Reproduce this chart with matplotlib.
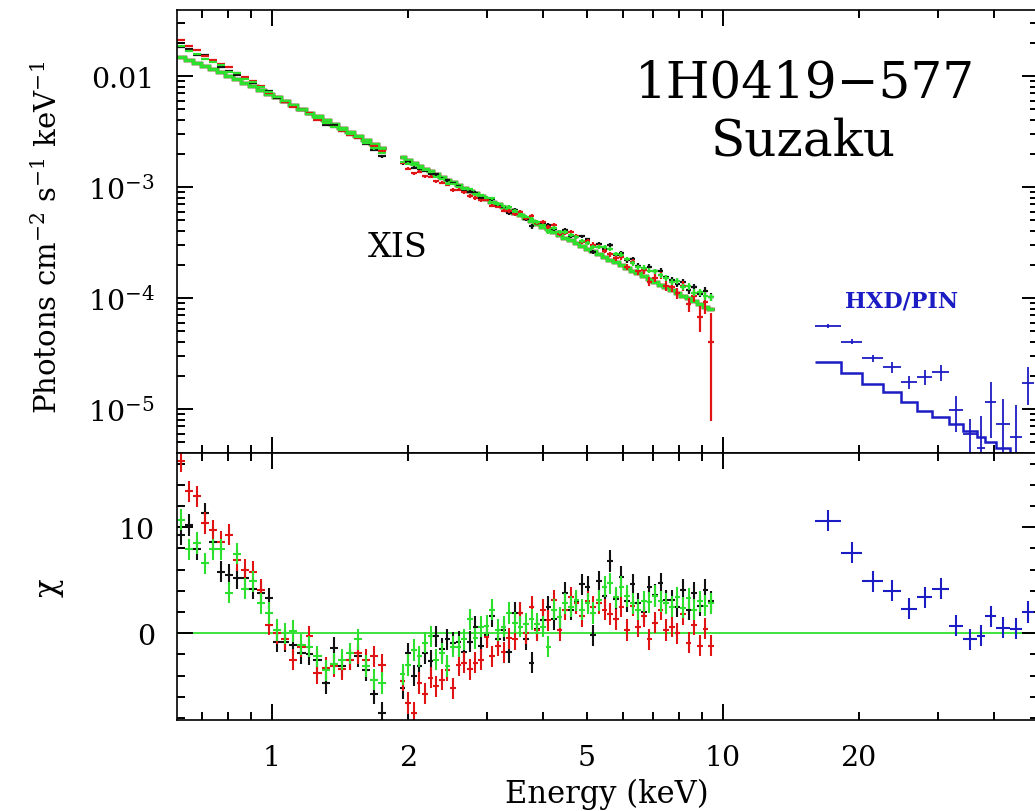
import numpy as np
import matplotlib
matplotlib.use("Agg")
import matplotlib.pyplot as plt
from matplotlib.ticker import FixedLocator, FuncFormatter, LogLocator, MultipleLocator, NullFormatter

plt.rcParams['font.family'] = ['DejaVu Serif']
plt.rcParams['mathtext.fontset'] = 'dejavuserif'

# ---------------- XIS spectra (shared binning for the three XIS units) ----------------
xis_edges_lo = [0.615, 0.641, 0.668, 0.696, 0.725, 0.755, 0.787, 0.820, 0.854, 0.890,
                0.927, 0.966, 1.007, 1.049, 1.093, 1.139, 1.187, 1.236, 1.288, 1.342,
                1.399, 1.457, 1.519, 1.582, 1.649, 1.718, 1.790]
xis_edges_hi = [1.920, 1.976, 2.033, 2.092, 2.153, 2.216, 2.280, 2.346, 2.415, 2.485,
                2.557, 2.631, 2.708, 2.787, 2.868, 2.951, 3.037, 3.125, 3.216, 3.310,
                3.406, 3.505, 3.607, 3.712, 3.820, 3.931, 4.045, 4.163, 4.284, 4.408,
                4.536, 4.668, 4.804, 4.944, 5.087, 5.235, 5.387, 5.544, 5.705, 5.871,
                6.041, 6.217, 6.397, 6.583, 6.774, 6.971, 7.174, 7.382, 7.597, 7.818,
                8.045, 8.279, 8.519, 8.767, 9.022, 9.284, 9.554]

# model (photons cm^-2 s^-1 keV^-1) per bin
xis_model_lo = [0.01473, 0.01391, 0.01309, 0.01229, 0.01150, 0.01078, 0.01005, 0.00934,
                0.00870, 0.00807, 0.00749, 0.00693, 0.00641, 0.00593, 0.00548, 0.00507,
                0.00467, 0.00432, 0.00399, 0.00368, 0.00339, 0.00312, 0.00288, 0.00265,
                0.00245, 0.00226]
xis_model_hi = [1.845e-3, 1.742e-3, 1.645e-3, 1.554e-3, 1.467e-3, 1.386e-3, 1.308e-3, 1.236e-3,
                1.167e-3, 1.102e-3, 1.040e-3, 9.825e-4, 9.278e-4, 8.761e-4, 8.273e-4, 7.813e-4,
                7.378e-4, 6.967e-4, 6.579e-4, 6.213e-4, 5.867e-4, 5.540e-4, 5.232e-4, 4.941e-4,
                4.665e-4, 4.406e-4, 4.160e-4, 3.929e-4, 3.710e-4, 3.503e-4, 3.308e-4, 3.124e-4,
                2.950e-4, 2.786e-4, 2.631e-4, 2.484e-4, 2.346e-4, 2.215e-4, 2.092e-4, 1.976e-4,
                1.866e-4, 1.762e-4, 1.664e-4, 1.571e-4, 1.484e-4, 1.401e-4, 1.323e-4, 1.249e-4,
                1.180e-4, 1.114e-4, 1.052e-4, 9.935e-5, 9.382e-5, 8.859e-5, 8.366e-5, 7.900e-5]

# 1-sigma flux errors as a fraction of the model
sigma_lo = [0.026, 0.025, 0.024, 0.023, 0.022, 0.021, 0.021, 0.020, 0.020, 0.019,
            0.019, 0.018, 0.018, 0.018, 0.017, 0.017, 0.017, 0.017, 0.018, 0.018,
            0.018, 0.019, 0.019, 0.020, 0.021, 0.022]
sigma_hi = [0.022, 0.022, 0.023, 0.023, 0.024, 0.024, 0.025, 0.025, 0.026, 0.026,
            0.027, 0.028, 0.028, 0.029, 0.030, 0.031, 0.031, 0.032, 0.033, 0.034,
            0.035, 0.036, 0.037, 0.038, 0.039, 0.040, 0.041, 0.042, 0.043, 0.044,
            0.045, 0.046, 0.047, 0.048, 0.049, 0.050, 0.052, 0.053, 0.055, 0.056,
            0.058, 0.060, 0.062, 0.064, 0.066, 0.068, 0.070, 0.073, 0.076, 0.079,
            0.082, 0.085, 0.088, 0.092, 0.096, 0.100]
sigma_hi_red = [0.024, 0.024, 0.025, 0.025, 0.026, 0.026, 0.027, 0.027, 0.028, 0.028,
                0.029, 0.030, 0.031, 0.032, 0.033, 0.034, 0.035, 0.036, 0.037, 0.038,
                0.039, 0.040, 0.041, 0.042, 0.044, 0.045, 0.046, 0.048, 0.049, 0.050,
                0.052, 0.053, 0.055, 0.057, 0.059, 0.061, 0.063, 0.065, 0.068, 0.070,
                0.073, 0.076, 0.079, 0.083, 0.087, 0.091, 0.096, 0.101, 0.107, 0.114,
                0.122, 0.131, 0.142, 0.200, 0.250, 0.410]

# residuals (data - model) / error
chi_black_lo = [9.3, 10.2, 7.9, 11.3, 8.6, 5.8, 5.5, 5.2, 5.2, 4.2, 3.8, 3.3, -0.8,
                -0.8, -1.1, -1.9, -2.0, -2.5, -4.7, -1.4, -3.1, -2.5, -2.2, -3.5, -5.7, -7.5]
chi_red_lo = [16.2, 13.4, 12.9, 10.4, 9.7, 8.6, 9.3, 6.9, 6.0, 5.8, 4.1, 0.8, 0.0,
              -0.6, -2.5, -1.3, -0.3, -3.8, -3.3, -3.1, -3.4, -2.5, -1.9, -2.5, -2.2, -3.0]
chi_green_lo = [10.7, 7.9, 8.5, 6.6, 7.9, 7.9, 3.8, 7.5, 4.2, 4.9, 2.8, 1.9, 0.3,
                0.0, 0.2, -1.1, -1.3, -2.2, -3.5, -2.9, -2.5, -1.9, -0.6, -3.1, -4.4, -4.7]

chi_black_hi = [-5.2, -1.9, -4.0, -3.1, -1.9, -2.6, -0.3, -1.5, -0.6, -0.9,
                -0.8, -1.8, -0.8, 0.6, -1.2, -0.2, 1.6, -0.6, 0.3, -1.8,
                1.9, 1.9, -0.6, -2.8, 0.4, 1.2, 2.5, 1.3, 1.5, 3.8,
                2.2, 2.9, 4.6, 4.4, -0.2, 4.9, 3.5, 6.8, 3.2, 5.3,
                3.0, 4.6, 2.8, 2.0, 4.4, 3.6, 4.7, 3.1, 3.1, 2.5,
                4.1, 2.2, 3.8, 2.6, 4.1, 3.0]
chi_red_hi = [-4.5, -6.6, -7.5, -4.7, -5.7, -4.2, -5.0, -4.4, -3.5, -5.2,
              -3.0, -2.8, -3.4, -2.8, -2.5, -0.4, -2.2, -1.2, -1.8, -0.5,
              -0.6, 1.9, 0.0, 2.5, 0.3, 2.2, 1.2, 3.1, 0.3, 2.2,
              3.4, 2.8, 1.6, 3.0, 2.5, 2.8, 2.2, 1.8, 1.3, 2.5,
              0.3, 2.6, 0.6, 1.6, -0.6, 1.0, 2.2, 0.3, 0.6, 0.0,
              1.8, -0.9, 0.8, -1.2, 0.4, -1.2]
chi_green_hi = [-3.9, -3.0, -1.6, -2.2, -0.9, -0.3, -2.5, -1.9, -3.1, -1.3,
                -1.3, -0.6, 1.3, -0.5, 0.6, 0.7, 2.2, 0.3, 0.6, 1.9,
                1.0, 0.6, 0.9, 1.3, 0.9, 0.6, -1.3, 2.2, 1.5, 2.8,
                2.5, 3.1, 2.2, 2.8, 1.9, 3.1, 4.4, 4.7, 3.4, 4.4,
                3.5, 2.8, 2.2, 3.0, 2.9, 3.5, 3.0, 2.8, 2.5, 3.4,
                2.4, 3.3, 2.2, 3.0, 2.6, 2.8]

# ---------------- HXD/PIN spectrum ----------------
pin_edges = [16.0, 18.3, 20.4, 22.7, 24.9, 27.0, 29.1, 31.8, 34.1, 36.6, 38.2, 40.4, 43.3, 46.0, 49.1]
pin_flux = [5.6e-5, 4.05e-5, 2.87e-5, 2.38e-5, 1.74e-5, 1.93e-5, 2.14e-5, 9.7e-6, 5.9e-6,
            4.5e-6, 1.15e-5, 7.3e-6, 5.6e-6, 1.73e-5]
pin_flux_err = [2.0e-6, 2.0e-6, 2.2e-6, 2.5e-6, 2.4e-6, 3.0e-6, 3.7e-6, 3.5e-6, 2.3e-6,
                4.2e-6, 6.0e-6, 5.0e-6, 5.2e-6, 6.5e-6]
pin_model = [2.63e-5, 2.11e-5, 1.68e-5, 1.41e-5, 1.15e-5, 9.66e-6, 8.4e-6, 7.3e-6, 6.4e-6,
             5.6e-6, 5.0e-6, 4.5e-6, 4.0e-6, 3.6e-6]
pin_chi = [10.6, 7.6, 4.9, 4.0, 2.3, 3.4, 4.2, 0.7, -0.6, -0.25, 1.6, 0.5, 0.4, 2.0]

BLACK, RED, GREEN, BLUE = '#111111', '#e01414', '#2ee02e', '#1c1cc4'

W, H = 1035, 812
fig = plt.figure(figsize=(W / 100, H / 100), dpi=100)


def box(x0, y0, x1, y1):
    return [x0 / W, 1 - y1 / H, (x1 - x0) / W, (y1 - y0) / H]


ax_top = fig.add_axes(box(177, 11, 1038, 454))
ax_res = fig.add_axes(box(177, 454, 1038, 721), sharex=ax_top)


def bins(edges):
    e = np.asarray(edges, dtype=float)
    c = np.sqrt(e[:-1] * e[1:])
    return e, c, np.vstack([c - e[:-1], e[1:] - c])


def draw_xis(edges, model, sigma, chi, color):
    e, c, xerr = bins(edges)
    m = np.asarray(model)
    s = m * np.asarray(sigma)
    r = np.asarray(chi)
    flux = m + r * s
    ax_top.errorbar(c, flux, xerr=xerr, yerr=s, fmt='none', ecolor=color,
                    elinewidth=1.6, capsize=0)
    ax_top.stairs(m, e, color=color, lw=2.4, baseline=None)
    ax_res.errorbar(c, r, xerr=xerr, yerr=1.0, fmt='none', ecolor=color,
                    elinewidth=1.5, capsize=0)


for seg in ('lo', 'hi'):
    edges = xis_edges_lo if seg == 'lo' else xis_edges_hi
    model = xis_model_lo if seg == 'lo' else xis_model_hi
    sig = sigma_lo if seg == 'lo' else sigma_hi
    sig_red = sigma_lo if seg == 'lo' else sigma_hi_red
    draw_xis(edges, model, sig, chi_black_lo if seg == 'lo' else chi_black_hi, BLACK)
    draw_xis(edges, model, sig_red, chi_red_lo if seg == 'lo' else chi_red_hi, RED)
    draw_xis(edges, model, sig, chi_green_lo if seg == 'lo' else chi_green_hi, GREEN)

# PIN
pe, pc, pxerr = bins(pin_edges)
ax_top.errorbar(pc, pin_flux, xerr=pxerr, yerr=pin_flux_err, fmt='none',
                ecolor=BLUE, elinewidth=1.3, capsize=0)
ax_top.stairs(pin_model, pe, color=BLUE, lw=1.8, baseline=None)
ax_res.errorbar(pc, pin_chi, xerr=pxerr, yerr=1.0, fmt='none', ecolor=BLUE,
                elinewidth=1.5, capsize=0)

ax_res.axhline(0, color=GREEN, lw=1.3, zorder=0.5)

# ---------------- axes & ticks ----------------
ax_top.set_xscale('log')
ax_top.set_yscale('log')
ax_top.set_xlim(0.6157, 50)
ax_top.set_ylim(4.015e-6, 0.03933)
ax_res.set_ylim(-8.2, 17.0)

xmaj = [1, 10]
xmin = [0.7, 0.8, 0.9, 2, 3, 4, 5, 6, 7, 8, 9, 20, 30, 40]
xlab = {2: '2', 5: '5', 20: '20'}
for ax in (ax_top, ax_res):
    ax.xaxis.set_major_locator(FixedLocator(xmaj))
    ax.xaxis.set_minor_locator(FixedLocator(xmin))
    for sp in ax.spines.values():
        sp.set_linewidth(1.2)
    ax.tick_params(which='both', direction='in', top=True, right=True,
                   labelsize=20.5, width=1.4, pad=16)
    ax.tick_params(which='major', length=11.5)
    ax.tick_params(which='minor', length=6)

ax_res.xaxis.set_major_formatter(FuncFormatter(lambda v, p: '%g' % v))
ax_res.xaxis.set_minor_formatter(FuncFormatter(
    lambda v, p: next((t for k, t in xlab.items() if abs(v - k) < 1e-6), '')))
ax_res.tick_params(axis='x', which='both', pad=17)
ax_top.tick_params(axis='x', which='both', labelbottom=False)


def yfmt(v, p):
    if abs(v - 0.01) < 1e-9:
        return '0.01'
    return r'$10^{%d}$' % int(round(np.log10(v)))


ax_top.yaxis.set_major_locator(LogLocator(base=10, numticks=20))
ax_top.yaxis.set_minor_locator(LogLocator(base=10, subs=np.arange(2, 10), numticks=20))
ax_top.yaxis.set_major_formatter(FuncFormatter(yfmt))
ax_top.yaxis.set_minor_formatter(NullFormatter())

ax_res.yaxis.set_major_locator(MultipleLocator(10))
ax_res.yaxis.set_minor_locator(MultipleLocator(2))
ax_res.yaxis.set_major_formatter(FuncFormatter(lambda v, p: '%d' % v))

# ---------------- labels ----------------
fig.text(48 / W, 1 - 237 / H, r'Photons cm$^{-2}$ s$^{-1}$ keV$^{-1}$', rotation=90,
         ha='center', va='center', fontsize=21)
fig.text(48 / W, 1 - 588 / H, 'χ', rotation=90, ha='center', va='center', fontsize=22)
fig.text(607 / W, 1 - 803 / H, 'Energy (keV)', ha='center', va='baseline', fontsize=22)

fig.text(805 / W, 1 - 97 / H, '1H0419\u2212577', ha='center', va='baseline', fontsize=36)
fig.text(803 / W, 1 - 155 / H, 'Suzaku', ha='center', va='baseline', fontsize=36)
fig.text(398 / W, 1 - 257 / H, 'XIS', ha='center', va='baseline', fontsize=24)
fig.text(902 / W, 1 - 308 / H, 'HXD/PIN', ha='center', va='baseline', fontsize=16,
         fontweight='bold', color=BLUE)

fig.savefig('out.png', dpi=100)
